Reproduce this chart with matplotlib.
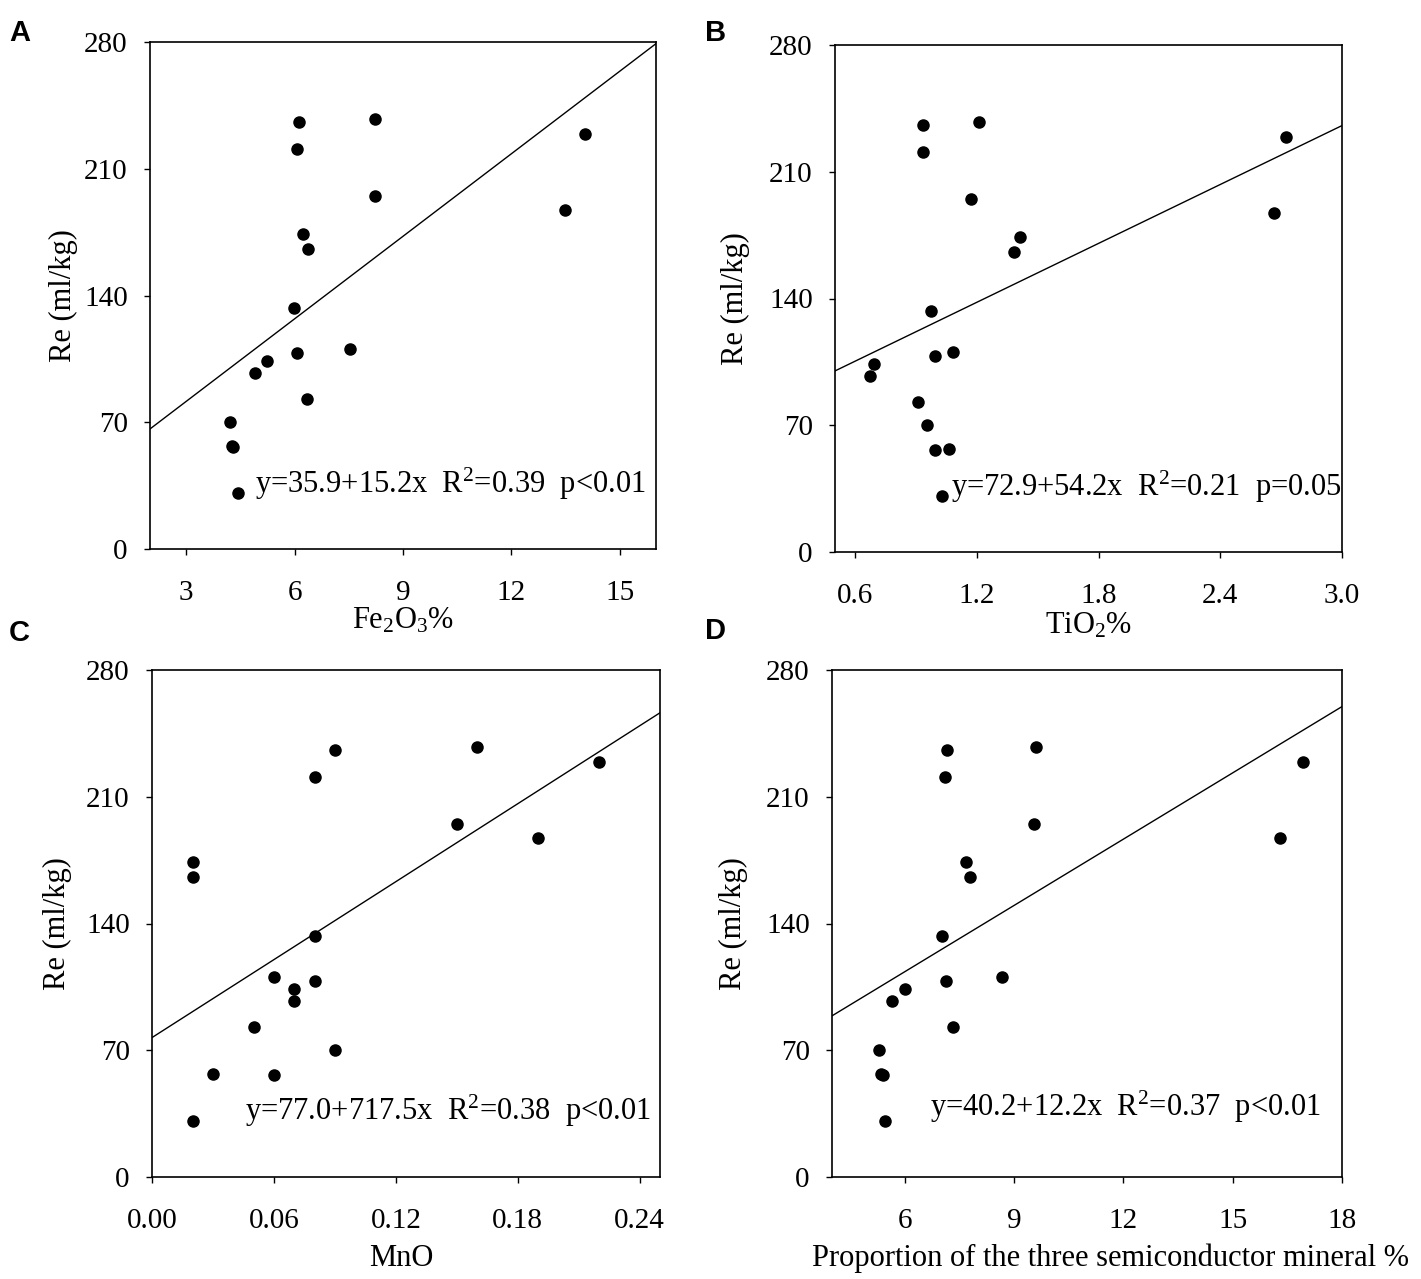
import numpy as np
from matplotlib import pyplot as plt

plt.rcParams["font.family"] = ["Liberation Serif", "DejaVu Serif"]
plt.rcParams["mathtext.fontset"] = "custom"
plt.rcParams["mathtext.rm"] = "Liberation Serif"
plt.rcParams["mathtext.it"] = "Liberation Serif:italic"

# Re (ml/kg) of the 18 samples, same for every panel
re_ml_kg = [237.5, 235.6, 229, 221, 195, 187, 174, 165.5, 133, 110.5,
            108.2, 104, 97.2, 82.8, 70.1, 56.8, 56.3, 30.7]

fe2o3 = [8.23, 6.13, 14.03, 6.08, 8.22, 13.48, 6.24, 6.37, 5.98, 7.54,
         6.06, 5.25, 4.91, 6.35, 4.22, 4.27, 4.30, 4.43]
tio2 = [1.212, 0.933, 2.722, 0.932, 1.171, 2.663, 1.411, 1.384, 0.971, 1.081,
        0.991, 0.69, 0.671, 0.911, 0.952, 1.061, 0.993, 1.03]
mno = [0.16, 0.09, 0.22, 0.08, 0.15, 0.19, 0.02, 0.02, 0.08, 0.06,
       0.08, 0.07, 0.07, 0.05, 0.09, 0.03, 0.06, 0.02]
semi = [9.61, 7.16, 16.93, 7.11, 9.55, 16.31, 7.67, 7.78, 7.03, 8.66,
        7.14, 6.01, 5.64, 7.31, 5.29, 5.34, 5.40, 5.45]

intercepts = [35.9, 72.9, 77.0, 40.2]
slopes = [15.2, 54.2, 717.5, 12.2]
eq_texts = [
    r"y=35.9+15.2x  R$^{2}$=0.39  p<0.01",
    r"y=72.9+54.2x  R$^{2}$=0.21  p=0.05",
    r"y=77.0+717.5x  R$^{2}$=0.38  p<0.01",
    r"y=40.2+12.2x  R$^{2}$=0.37  p<0.01",
]
xlabels = [r"Fe$_{2}$O$_{3}$%", r"TiO$_{2}$%", "MnO",
           "Proportion of the three semiconductor mineral %"]
xlims = [(2, 16), (0.5, 3.0), (0.0, 0.25), (4, 18)]
xticks = [[3, 6, 9, 12, 15], [0.6, 1.2, 1.8, 2.4, 3.0],
          [0.00, 0.06, 0.12, 0.18, 0.24], [6, 9, 12, 15, 18]]
xfmt = ["{:.0f}", "{:.1f}", "{:.2f}", "{:.0f}"]
yticks = [0, 70, 140, 210, 280]
letters = ["A", "B", "C", "D"]
xs_all = [fe2o3, tio2, mno, semi]

W, H = 1421, 1279
fig = plt.figure(figsize=(W / 100, H / 100), dpi=100)

# axes boxes in pixels: left, top, right, bottom
boxes = [(150, 42, 656, 549), (835, 45, 1342, 552),
         (152, 670, 660, 1177), (832, 670, 1342, 1177)]
text_pos = [(4.9, 36), (1.07, 36), (0.046, 36.4), (6.68, 38.6)]
ylab_x = [-0.142, -0.168, -0.157, -0.165]
xlab_xy = [(0.5, -0.112), (0.5, -0.116), (0.49, -0.132), (0.547, -0.132)]
letter_pos = [(9, 19), (705, 19), (9, 619), (705, 617)]

for i in range(4):
    l, t, r, b = boxes[i]
    ax = fig.add_axes([l / W, 1 - b / H, (r - l) / W, (b - t) / H])
    ax.plot(xs_all[i], re_ml_kg, "o", color="black", markersize=8)
    x0, x1 = xlims[i]
    xx = np.array([x0, x1])
    ax.plot(xx, intercepts[i] + slopes[i] * xx, color="black", linewidth=1.0)
    ax.set_xlim(x0, x1)
    ax.set_ylim(0, 280)
    ax.set_xticks(xticks[i])
    ax.set_xticklabels([xfmt[i].format(v) for v in xticks[i]])
    ax.set_yticks(yticks)
    ax.tick_params(direction="out", length=4, width=1, labelsize=21,
                   top=False, right=False)
    ax.tick_params(axis="x", pad=18)
    ax.tick_params(axis="y", pad=12)
    for sp in ax.spines.values():
        sp.set_linewidth(1.2)
    ax.set_ylabel("Re (ml/kg)", fontsize=22)
    ax.yaxis.set_label_coords(ylab_x[i], 0.5)
    ax.set_xlabel(xlabels[i], fontsize=22)
    ax.xaxis.set_label_coords(*xlab_xy[i])
    ax.text(text_pos[i][0], text_pos[i][1], eq_texts[i], fontsize=22,
            va="center", ha="left")
    fig.text(letter_pos[i][0] / W, 1 - letter_pos[i][1] / H, letters[i],
             fontsize=21, fontweight="bold", family="Liberation Sans",
             va="top", ha="left")

plt.savefig("out.png", dpi=100)
